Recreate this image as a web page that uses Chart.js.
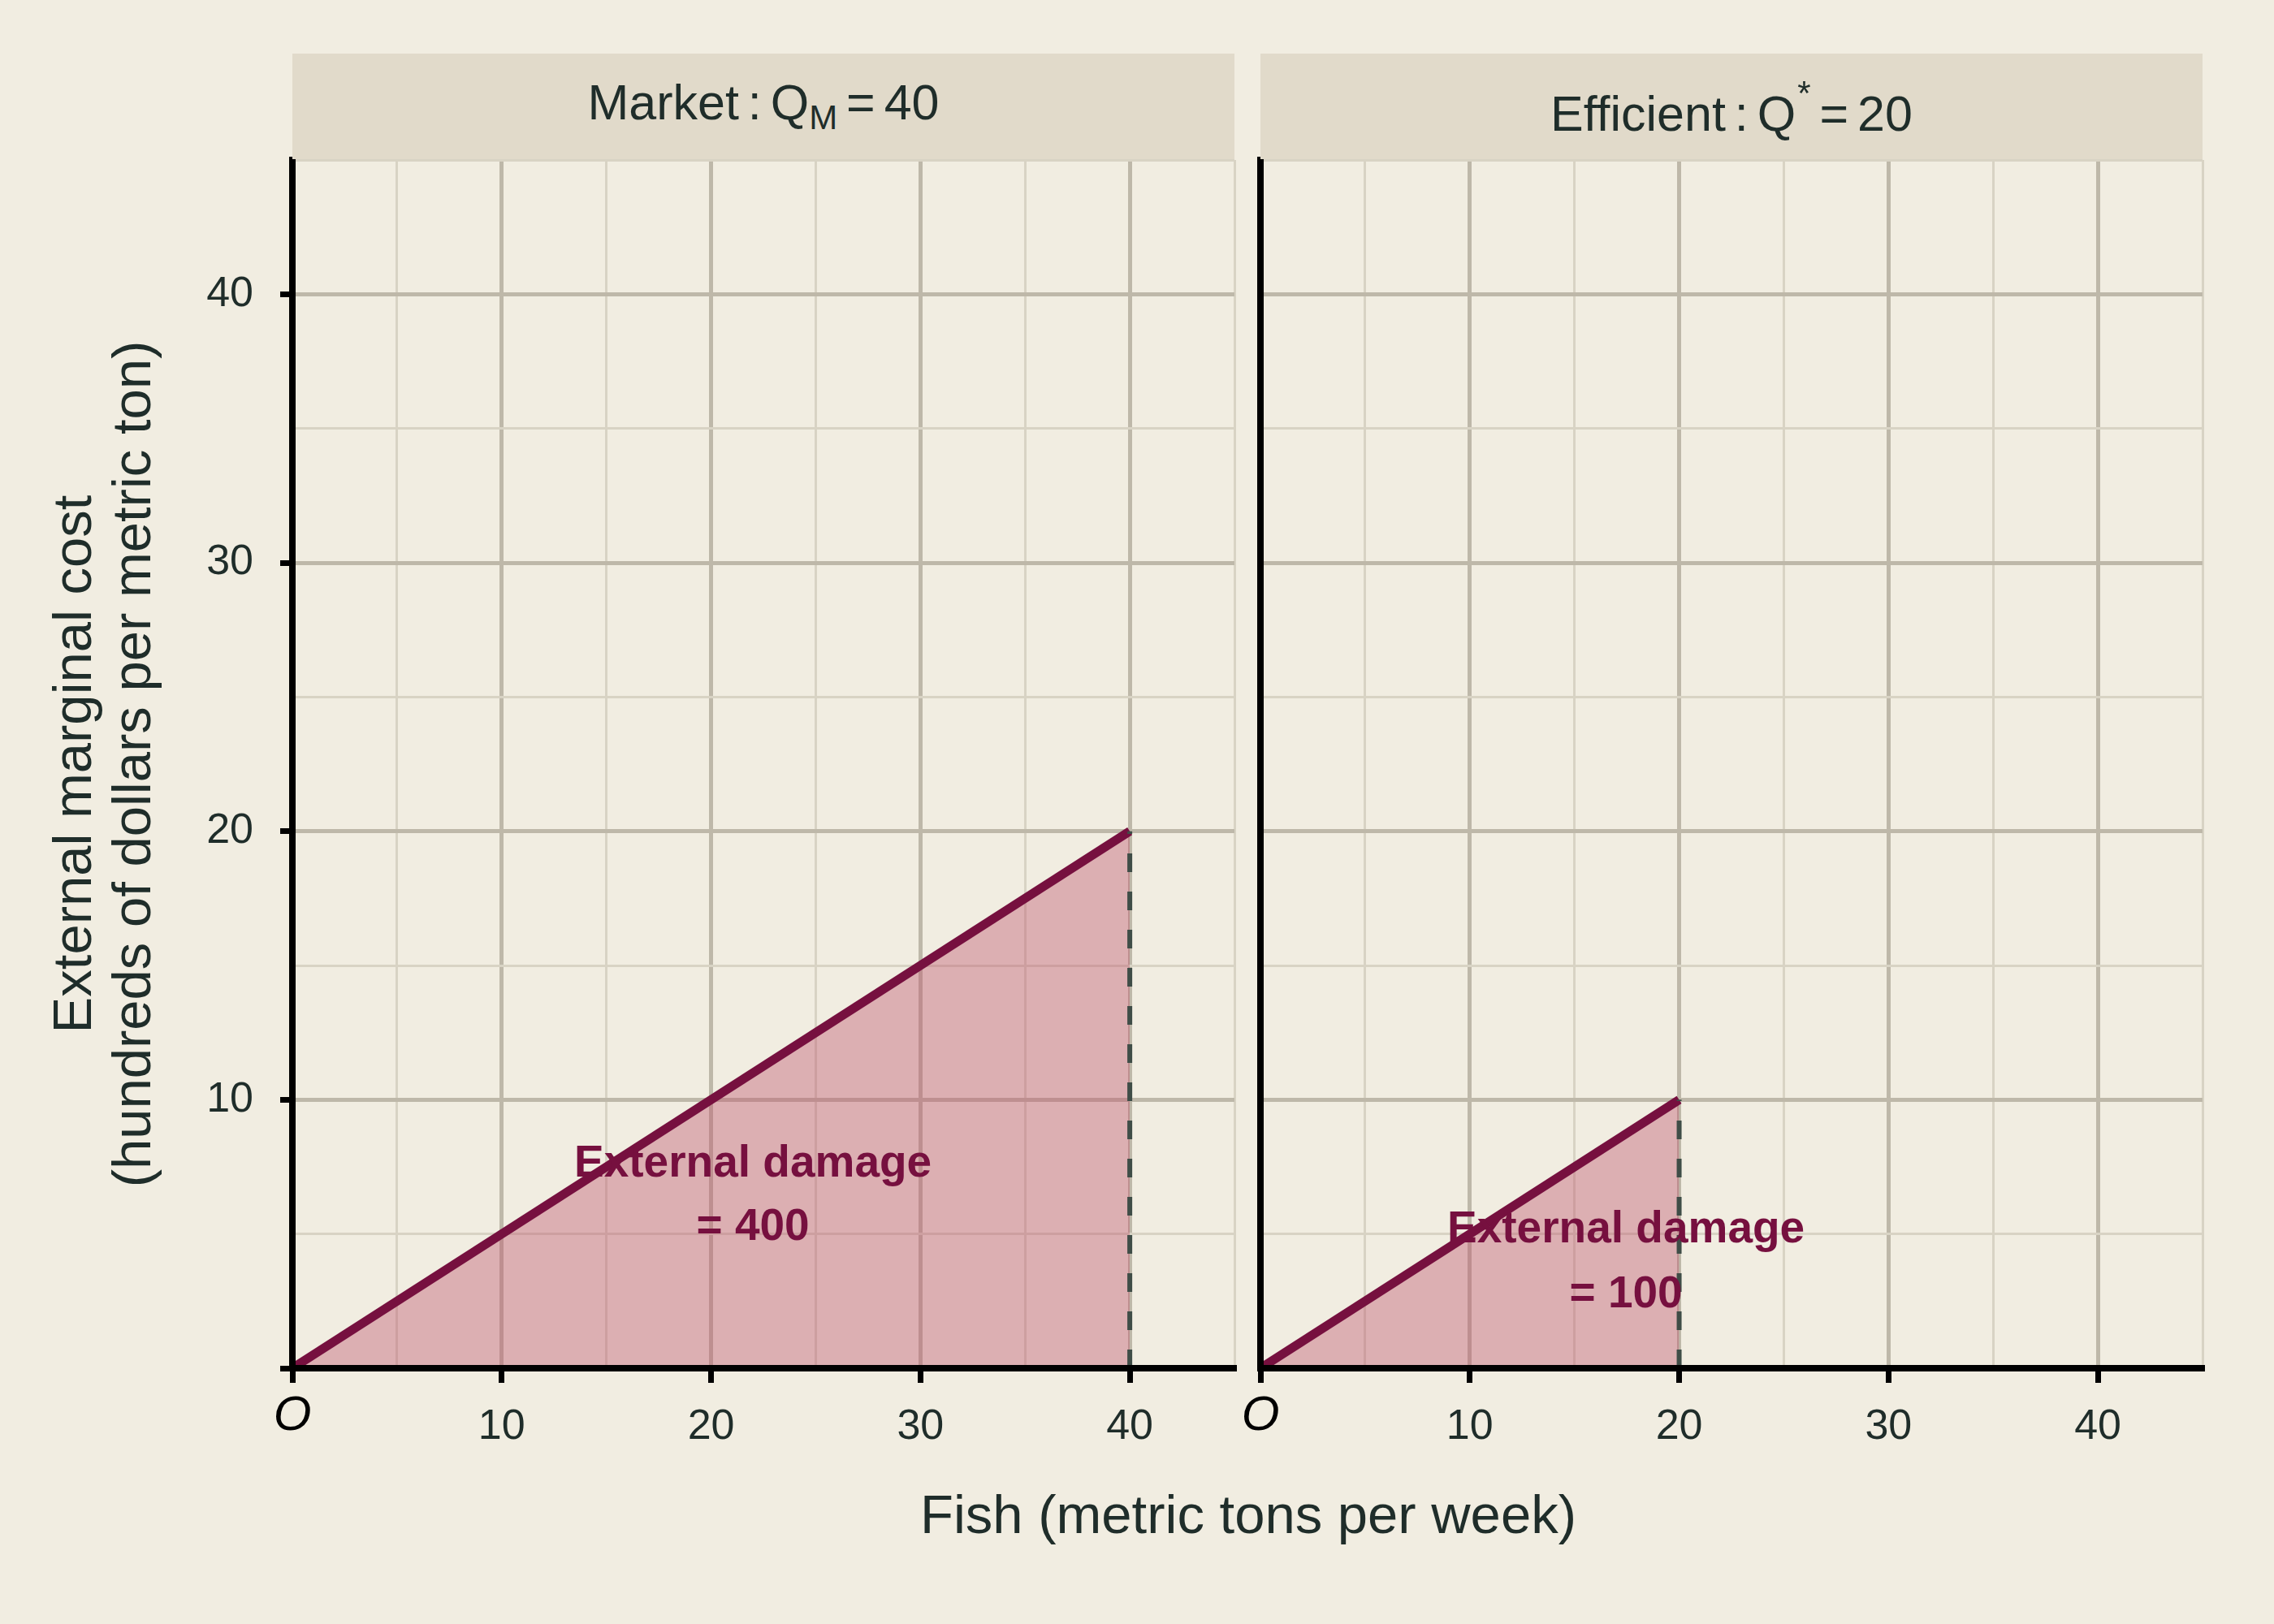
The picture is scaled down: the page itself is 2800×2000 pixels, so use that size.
<!DOCTYPE html>
<html>
<head>
<meta charset="utf-8">
<script src="https://cdn.jsdelivr.net/npm/chart.js@4.4.1/dist/chart.umd.min.js"></script>
<style>
  html, body { margin: 0; padding: 0; background: #F1EDE1; }
  #wrap { position: relative; width: 2800px; height: 2000px; background: #F1EDE1; overflow: hidden;
          font-family: "Liberation Sans", Arial, sans-serif; color: #1F2D2A; }
  canvas { position: absolute; top: 0; }
  .strip { position: absolute; top: 66px; height: 130px; background: #E1DACA; z-index: 2; }
  .strip .txt { position: absolute; left: 50%; transform: translateX(-50%); white-space: nowrap;
                font-size: 61px; line-height: 61px; word-spacing: -6px; }
  .strip .sub { font-size: 42px; position: relative; top: 12px; }
  .strip .sup { font-size: 42px; position: relative; top: -32px; margin-left: 2px; }
  #xtitle { position: absolute; left: 1537px; top: 1831px; transform: translateX(-50%); white-space: nowrap;
            font-size: 67px; line-height: 67px; z-index: 2; }
</style>
</head>
<body>
<div id="wrap">
  <canvas id="left" width="1560" height="2000" style="left:0px;width:1560px;height:2000px"></canvas>
  <canvas id="right" width="1364" height="2000" style="left:1436px;width:1364px;height:2000px"></canvas>
  <div id="xtitle"></div>
</div>
<script>
// ---------- data ----------
const marketQ = [0, 40];          // fish, metric tons per week
const marketEMC = [0, 20];        // external marginal cost, hundreds of $ per ton
const efficientQ = [0, 20];
const efficientEMC = [0, 10];

const panelNames = ['Market', 'Efficient'];
const panelSymbols = ['M', '*'];
const panelScripts = ['sub', 'sup'];
const panelQuantities = [40, 20];
const damageLines = [['External damage', '= 400'], ['External damage', '= 100']];

const xTickValues = [0, 10, 20, 30, 40];
const xTickLabels = ['O', '10', '20', '30', '40'];
const yTickValues = [10, 20, 30, 40];
const yTickLabels = ['10', '20', '30', '40'];

const xTitle = 'Fish (metric tons per week)';
const yTitle = ['External marginal cost', '(hundreds of dollars per metric ton)'];

// ---------- styling ----------
const FONT = '"Liberation Sans", Arial, sans-serif';
const TEXT = '#1F2D2A';
const MAJOR = '#BEB8A9';
const MINOR = '#D8D3C4';
const LINE = '#76103F';
const FILL = 'rgba(191, 82, 108, 0.40)';
const DASH = '#3F4D47';

document.getElementById('xtitle').textContent = xTitle;

// strips
const stripLefts = [360, 1552];
const stripTops = [30, 44];
panelNames.forEach((name, i) => {
  const s = document.createElement('div');
  s.className = 'strip';
  s.style.left = stripLefts[i] + 'px';
  s.style.width = '1160px';
  const t = document.createElement('span');
  t.className = 'txt';
  t.style.top = stripTops[i] + 'px';
  t.appendChild(document.createTextNode(name + ' : Q'));
  const sc = document.createElement('span');
  sc.className = panelScripts[i];
  sc.textContent = panelSymbols[i];
  t.appendChild(sc);
  t.appendChild(document.createTextNode(' = ' + panelQuantities[i]));
  s.appendChild(t);
  document.getElementById('wrap').appendChild(s);
});

const damageLabel = {
  id: 'damageLabel',
  afterDatasetsDraw(chart, args, opts) {
    const { ctx } = chart;
    const x = chart.scales.x, y = chart.scales.y;
    ctx.save();
    ctx.font = 'bold 55px ' + FONT;
    ctx.fillStyle = LINE;
    ctx.textAlign = 'center';
    ctx.textBaseline = 'middle';
    opts.lines.forEach((t, i) => {
      ctx.fillText(t, x.getPixelForValue(opts.x), y.getPixelForValue(opts.y[i]));
    });
    ctx.restore();
  }
};

const isMajor = v => v % 10 === 0;

function makeChart(id, qs, emcs, isLeft, labelLines, labelX, labelYs) {
  const pts = qs.map((q, i) => ({ x: q, y: emcs[i] }));
  const qEnd = qs[qs.length - 1], eEnd = emcs[emcs.length - 1];
  return new Chart(document.getElementById(id), {
    type: 'line',
    data: {
      datasets: [
        {
          data: [{ x: qEnd, y: 0 }, { x: qEnd, y: eEnd }],
          borderColor: DASH, borderWidth: 6, borderDash: [23, 24],
          pointRadius: 0, fill: false, order: 0
        },
        {
          data: pts,
          borderColor: LINE, borderWidth: 11, backgroundColor: FILL,
          fill: 'origin', pointRadius: 0, tension: 0, order: 1
        }
      ]
    },
    options: {
      responsive: false,
      animation: false,
      events: [],
      layout: { padding: { left: 0, top: 197, right: isLeft ? 40 : 88, bottom: 165 } },
      plugins: {
        legend: { display: false },
        tooltip: { enabled: false },
        damageLabel: { lines: labelLines, x: labelX, y: labelYs }
      },
      scales: {
        x: {
          type: 'linear', min: 0, max: 45,
          afterFit: s => { s.height = 150; },
          border: { display: true, color: '#000', width: 8, z: 1 },
          grid: {
            color: c => isMajor(c.tick.value) ? MAJOR : MINOR,
            lineWidth: c => isMajor(c.tick.value) ? 5 : 3,
            drawTicks: true, tickLength: 18, tickWidth: 7,
            tickColor: c => (xTickValues.includes(c.tick.value)) ? '#000' : 'rgba(0,0,0,0)'
          },
          ticks: {
            stepSize: 5, autoSkip: false, maxRotation: 0, padding: 23,
            color: c => c.tick.value === 0 ? '#000' : TEXT,
            font: c => c.tick && c.tick.value === 0
              ? { family: FONT, size: 60, style: 'italic', lineHeight: '36px' }
              : { family: FONT, size: 52, lineHeight: 1.2 },
            callback: v => { const i = xTickValues.indexOf(v); return i >= 0 ? xTickLabels[i] : ''; }
          }
        },
        y: {
          type: 'linear', min: 0, max: 45,
          afterFit: s => { s.width = isLeft ? 360 : 116; },
          border: { display: true, color: '#000', width: 8, z: 1 },
          grid: {
            color: c => isMajor(c.tick.value) ? MAJOR : MINOR,
            lineWidth: c => isMajor(c.tick.value) ? 5 : 3,
            drawTicks: isLeft, tickLength: 15, tickWidth: 7,
            tickColor: c => (c.tick.value <= 40 && isMajor(c.tick.value)) ? '#000' : 'rgba(0,0,0,0)'
          },
          ticks: {
            display: isLeft,
            stepSize: 5, autoSkip: false, padding: 33, color: TEXT,
            font: { family: FONT, size: 52 },
            callback: v => { const i = yTickValues.indexOf(v); return i >= 0 ? yTickLabels[i] : ''; }
          },
          title: {
            display: isLeft, text: yTitle, color: TEXT,
            font: { family: FONT, size: 67, lineHeight: 1.075 },
            padding: { top: 58, bottom: 0 }
          }
        }
      }
    },
    plugins: [damageLabel]
  });
}

makeChart('left', marketQ, marketEMC, true, damageLines[0], 22.0, [7.6, 5.25]);
makeChart('right', efficientQ, efficientEMC, false, damageLines[1], 17.46, [5.16, 2.74]);
</script>
</body>
</html>
